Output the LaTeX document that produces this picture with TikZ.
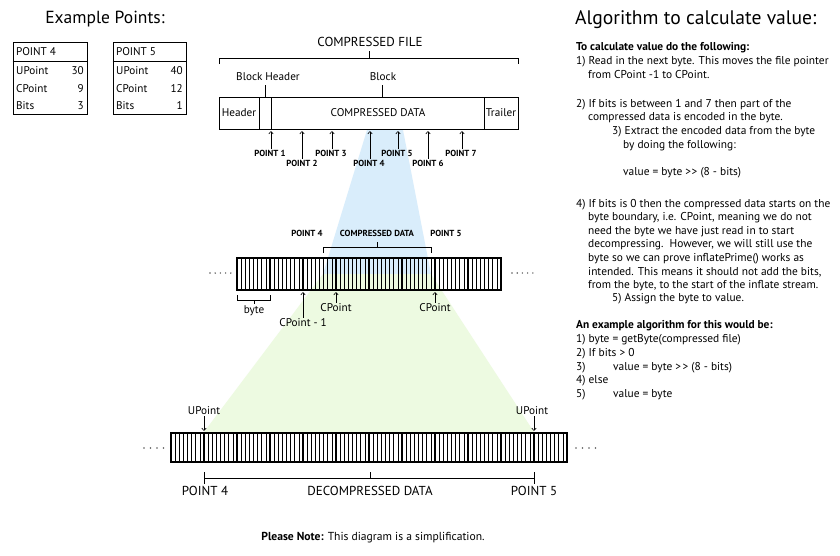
\documentclass[tikz,border=0pt]{standalone}
\usepackage{fontspec}
\setmainfont{PT Sans}
\usetikzlibrary{arrows.meta}
\definecolor{bluefill}{RGB}{217,237,251}
\definecolor{greenfill}{RGB}{237,250,225}
\definecolor{dotgrey}{RGB}{90,90,90}
\newcommand{\gtgt}{>\kern0.6pt>}
\begin{document}
\begin{tikzpicture}[x=1pt,y=-1pt,
  big/.style={font=\fontsize{17.5}{20}\selectfont, inner sep=0},
  bigger/.style={font=\fontsize{19.6}{22}\selectfont, inner sep=0},
  mid/.style={font=\fontsize{13}{15}\selectfont, inner sep=0},
  lbl/.style={font=\fontsize{11.2}{13}\selectfont, inner sep=0},
  tiny/.style={font=\fontsize{8.8}{10}\selectfont\bfseries, inner sep=0},
  body/.style={font=\fontsize{11.4}{13}\selectfont, anchor=west, inner sep=0},
  arr/.style={-{Straight Barb[length=2.5pt,width=4.5pt]}, line width=0.6pt},
  ln/.style={line width=0.8pt},
  bitline/.style={line width=0.75pt},
  byteline/.style={line width=1.7pt},
  dotmark/.style={fill=dotgrey, draw=none}]
\useasboundingbox (0,0) rectangle (840,555);
\fill[white] (0,0) rectangle (840,555);

% ---------- shaded projections ----------
\fill[bluefill] (367,130) -- (403,130) -- (431,274) -- (323,274) -- cycle;
\fill[greenfill] (323,274) -- (431,274) -- (534,432) -- (204,432) -- cycle;

% ---------- Example points ----------
\node[big] (extitle) at (105,19) {Example Points:};
\node[draw, ln, minimum width=74pt, minimum height=72pt, inner sep=0] (box4) at (50,78) {};
\draw[ln] (box4.west |- 0,61) coordinate (b4l) -- (box4.east |- 0,61) coordinate (b4r);
\node[lbl, anchor=west] (b4t) at (16,52) {POINT 4};
\node[lbl, anchor=west] (b4a) at (16,71) {UPoint};
\node[lbl, anchor=east] (b4av) at (84,71) {30};
\node[lbl, anchor=west] (b4b) at (16,88.5) {CPoint};
\node[lbl, anchor=east] (b4bv) at (84,88.5) {9};
\node[lbl, anchor=west] (b4c) at (16,105.5) {Bits};
\node[lbl, anchor=east] (b4cv) at (84,105.5) {3};

\node[draw, ln, minimum width=73pt, minimum height=72pt, inner sep=0] (box5) at (149.5,78) {};
\draw[ln] (box5.west |- 0,61) coordinate (b5l) -- (box5.east |- 0,61) coordinate (b5r);
\node[lbl, anchor=west] (b5t) at (116,52) {POINT 5};
\node[lbl, anchor=west] (b5a) at (116,71) {UPoint};
\node[lbl, anchor=east] (b5av) at (183,71) {40};
\node[lbl, anchor=west] (b5b) at (116,88.5) {CPoint};
\node[lbl, anchor=east] (b5bv) at (183,88.5) {12};
\node[lbl, anchor=west] (b5c) at (116,105.5) {Bits};
\node[lbl, anchor=east] (b5cv) at (183,105.5) {1};

% ---------- Compressed file ----------
\node[mid] (cftitle) at (370,42) {COMPRESSED FILE};
\coordinate (brL) at (219,58);
\coordinate (brR) at (518,58);
\coordinate (brM) at (369,58);
\draw[ln] (219,64) -- (brL) -- (brR) -- (518,64);
\draw[ln] (brM) -- (369,51);

\node[lbl] (bhdr) at (268,77) {Block Header};
\node[lbl] (blk) at (383,77) {Block};
\node[draw, ln, minimum width=299pt, minimum height=32pt, inner sep=0] (file) at (368.5,113) {};
\draw[ln] (265,85) -- (265,97);
\draw[ln] (382,85) -- (382,97);
\draw[ln] (259,97) -- (259,129);
\draw[ln] (271,97) -- (271,129);
\draw[ln] (484,97) -- (484,129);
\node[lbl] (hdr) at (239,113) {Header};
\node[lbl] (cdata) at (378,113) {COMPRESSED DATA};
\node[lbl] (trl) at (501,113) {Trailer};

\node[tiny] (p1) at (270,153) {POINT 1};
\node[tiny] (p2) at (302,163) {POINT 2};
\node[tiny] (p3) at (331,153) {POINT 3};
\node[tiny] (p4) at (369,163) {POINT 4};
\node[tiny] (p5) at (397,153) {POINT 5};
\node[tiny] (p6) at (428,163) {POINT 6};
\node[tiny] (p7) at (461,153) {POINT 7};
\foreach \p/\x in {p1/271,p2/302,p3/332,p4/370,p5/398,p6/428,p7/462}
  \draw[arr] (\x,0 |- \p.north) ++(0,-1) -- (\x,131);

% ---------- middle byte strip ----------
\foreach \i in {1,...,63}
  \draw[bitline] ({237+\i*4.125},258) -- ({237+\i*4.125},290);
\foreach \i in {1,...,7}
  \draw[byteline] ({237+\i*33},258) -- ({237+\i*33},290);
\node[draw, byteline, minimum width=264pt, minimum height=32pt, inner sep=0] (cstrip) at (369,274) {};
\foreach \i in {0,...,4} {
  \fill[dotmark] ({210+\i*5.2},273) circle (0.8);
  \fill[dotmark] ({512+\i*5.2},273) circle (0.8);
}

\node[tiny] (m4) at (307,233) {POINT 4};
\node[tiny] (mcd) at (377,233) {COMPRESSED DATA};
\node[tiny] (m5) at (446,233) {POINT 5};
\coordinate (mbL) at (323.6,247);
\coordinate (mbR) at (430.9,247);
\draw[ln] (323.6,253) -- (mbL) -- (mbR) -- (430.9,253);
\draw[ln] (377,247) -- (377,242);

% byte bracket
\draw[ln] (237.5,295) -- (237.5,300) -- (270,300) -- (270,295);
\draw[ln] (254,300) -- (254,304);
\node[lbl] (byte) at (254,311) {byte};

\node[lbl] (cpm1) at (303,323) {CPoint - 1};
\node[lbl] (cp1) at (336,308) {CPoint};
\node[lbl] (cp2) at (435,308) {CPoint};
\draw[arr] (cpm1.north -| 303,0) ++(0,-1) -- (303,292);
\draw[arr] (cp1.north) ++(0,-1) -- (336,292);
\draw[arr] (cp2.north) ++(0,-1) -- (435,292);

% ---------- bottom byte strip ----------
\foreach \i in {1,...,95}
  \draw[bitline] ({171+\i*4.125},433) -- ({171+\i*4.125},462);
\foreach \i in {1,...,11}
  \draw[byteline] ({171+\i*33},433) -- ({171+\i*33},462);
\node[draw, byteline, minimum width=396pt, minimum height=29pt, inner sep=0] (ustrip) at (369,447.5) {};
\foreach \i in {0,...,3} {
  \fill[dotmark] ({144+\i*6.5},448) circle (0.8);
  \fill[dotmark] ({576+\i*6.5},448) circle (0.8);
}
\node[lbl] (up4) at (204,411) {UPoint};
\node[lbl] (up5) at (532,411) {UPoint};
\draw[arr] (up4.south -| 204,0) ++(0,1) -- (204,431);
\draw[arr] (up5.south -| 534,0) ++(0,1) -- (534,431);

\coordinate (dbL) at (204,478);
\coordinate (dbR) at (534,478);
\draw[ln] (204,472) -- (204,484);
\draw[ln] (534,472) -- (534,484);
\draw[ln] (dbL) -- (dbR);
\draw[ln] (370,478) -- (370,472);
\node[mid] (dp4) at (205,491) {POINT 4};
\node[mid] (ddata) at (370,491) {DECOMPRESSED DATA};
\node[mid] (dp5) at (534,491) {POINT 5};

\node[lbl, font=\fontsize{11.6}{13}\selectfont] (note) at (373,538) {\textbf{Please Note:} This diagram is a simplification.};

% ---------- algorithm text ----------
\node[bigger, anchor=west] (atitle) at (575,20) {Algorithm to calculate value:};
\node[body] (r1) at (576,48) {\textbf{To calculate value do the following:}};
\node[body] (r2) at (576,62) {1) Read in the next byte. This moves the file pointer};
\node[body] (r3) at (588,75) {from CPoint -1 to CPoint.};
\node[body] (r4) at (576,105) {2) If bits is between 1 and 7 then part of the};
\node[body] (r5) at (588,118) {compressed data is encoded in the byte.};
\node[body] (r6) at (612,132) {3) Extract the encoded data from the byte};
\node[body] (r7) at (623,146) {by doing the following:};
\node[body] (r8) at (623,173) {value = byte \gtgt{} (8 - bits)};
\node[body] (r9) at (576,205) {4) If bits is 0 then the compressed data starts on the};
\node[body] (r10) at (588,218) {byte boundary, i.e. CPoint, meaning we do not};
\node[body] (r11) at (588,232) {need the byte we have just read in to start};
\node[body] (r12) at (588,245) {decompressing.\ \ However, we will still use the};
\node[body] (r13) at (588,259) {byte so we can prove inflatePrime() works as};
\node[body] (r14) at (588,272) {intended. This means it should not add the bits,};
\node[body] (r15) at (588,286) {from the byte, to the start of the inflate stream.};
\node[body] (r16) at (612,299) {5) Assign the byte to value.};
\node[body] (r17) at (576,326) {\textbf{An example algorithm for this would be:}};
\node[body] (r18) at (576,340) {1) byte = getByte(compressed file)};
\node[body] (r19) at (576,354) {2) If bits > 0};
\node[body] (r20) at (576,368) {3)};
\node[body] (r20b) at (613,368) {value = byte >\kern1.5pt> (8 - bits)};
\node[body] (r21) at (576,381) {4) else};
\node[body] (r22) at (576,395) {5)};
\node[body] (r22b) at (613,395) {value = byte};
\end{tikzpicture}
\end{document}
